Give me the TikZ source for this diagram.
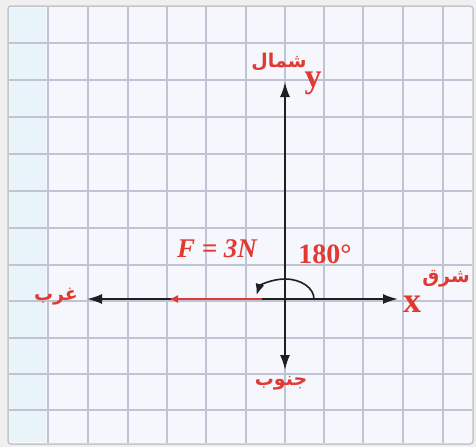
\documentclass[tikz,border=0pt]{standalone}
\usepackage{fontspec}
\setmainfont{Liberation Serif}
\newfontfamily\arabicfont[Script=Arabic]{DejaVu Sans}
\usetikzlibrary{arrows.meta}
\TeXXeTstate=1
\definecolor{lblred}{RGB}{224,58,50}
\definecolor{gridc}{RGB}{190,196,212}
\definecolor{paper}{RGB}{245,247,252}
\definecolor{strip}{RGB}{233,244,250}
\definecolor{axisc}{RGB}{30,30,35}
\tikzset{
  axisline/.style={axisc, line width=1.9pt, -{Latex[length=15pt,width=10pt]}},
  forcevec/.style={lblred, line width=1.7pt, -{Latex[length=9pt,width=8pt]}},
  anglearc/.style={axisc, line width=1.6pt, -{Latex[length=11pt,width=9pt]}},
  axislbl/.style={lblred, font=\fontsize{34}{34}\selectfont\bfseries, inner sep=0pt, anchor=base},
  arlbl/.style={lblred, font=\arabicfont\fontsize{19}{19}\selectfont\bfseries, inner sep=0pt},
  vallbl/.style={lblred, inner sep=0pt, anchor=base}
}
\begin{document}
\begin{tikzpicture}[x=1pt,y=-1pt]
\useasboundingbox (0,0) rectangle (476,447);
\fill[gray!12] (0,0) rectangle (476,447);
\fill[paper, draw=gray!45, line width=1.5pt, rounded corners=3pt] (8,6) rectangle (473,444);
\fill[strip] (10,8) rectangle (46,442);
% grid
\foreach \gx in {48,88,128,167,206,246,285,324,363,403,443}
  \draw[gridc, line width=1.4pt] (\gx,7) -- (\gx,443);
\foreach \gy in {43,80,117,154,191,228,265,301,338,374,410}
  \draw[gridc, line width=1.4pt] (9,\gy) -- (472,\gy);
% coordinates
\coordinate (O) at (285,299);
\coordinate (N) at (285,82);
\coordinate (S) at (285,370);
\coordinate (E) at (398,299);
\coordinate (W) at (87,299);
\coordinate (Ftip) at (169,299);
\coordinate (Fstart) at (262,299);
\coordinate (A0) at (314,299);
% axes
\draw[axisline] (O) -- (N);
\draw[axisline] (O) -- (S);
\draw[axisline] (O) -- (E);
\draw[axisline] (O) -- (W);
% force
\draw[forcevec] (Fstart) -- (Ftip);
% angle arc
\draw[anglearc] (A0) arc[start angle=0, end angle=168, x radius=29pt, y radius=20pt];
% labels
\node[axislbl] (ylbl) at (313,87) {y};
\node[axislbl, font=\fontsize{36}{36}\selectfont\bfseries] (xlbl) at (412,312) {x};
\node[arlbl] (north) at (279,62) {\beginR شمال\endR};
\node[arlbl] (east) at (446,279) {\beginR شرق\endR};
\node[arlbl] (west) at (56,297) {\beginR غرب\endR};
\node[arlbl] (south) at (281,383) {\beginR جنوب\endR};
\node[vallbl, font=\fontsize{27}{27}\selectfont\bfseries\itshape] (force) at (217,257) {F = 3N};
\node[vallbl, font=\fontsize{28}{28}\selectfont\bfseries] (ang) at (325,263) {180°};
\end{tikzpicture}
\end{document}
